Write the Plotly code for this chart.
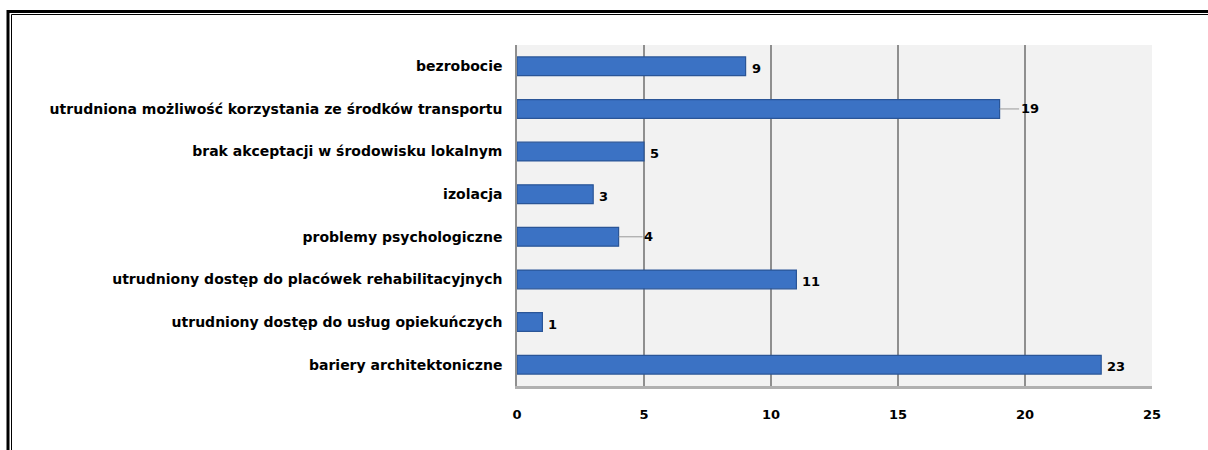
import plotly.graph_objects as go

categories = [
    "bezrobocie",
    "utrudniona możliwość korzystania ze środków transportu",
    "brak akceptacji w środowisku lokalnym",
    "izolacja",
    "problemy psychologiczne",
    "utrudniony dostęp do placówek rehabilitacyjnych",
    "utrudniony dostęp do usług opiekuńczych",
    "bariery architektoniczne",
]
values = [9, 19, 5, 3, 4, 11, 1, 23]
x_ticks = [0, 5, 10, 15, 20, 25]

W, H = 1208, 450
ML, MR, MT, MB = 517, 56, 45, 64
FONT = "DejaVu Sans"

fig = go.Figure()
fig.add_trace(go.Bar(
    x=values, y=categories, orientation="h",
    marker=dict(color="#3b72c4", line=dict(color="#2a5597", width=1.2)),
    width=0.44, hoverinfo="x+y",
))

# data labels
leader = [False, True, False, False, True, False, False, False]
for c, v, ld in zip(categories, values, leader):
    if ld:
        fig.add_annotation(x=v, y=c, text=f"<b>{v}</b>", showarrow=True, ax=30, ay=0,
                           arrowhead=0, arrowwidth=1, arrowcolor="#999999", standoff=0,
                           font=dict(family=FONT, size=13, color="black"))
    else:
        fig.add_annotation(x=v, y=c, text=f"<b>{v}</b>", showarrow=False,
                           xanchor="left", xshift=4, yshift=-2,
                           font=dict(family=FONT, size=13, color="black"))

pw = W - ML - MR
ph = H - MT - MB
def px_x(p):
    return (p - ML) / pw
def px_y(p):
    return 1 - (p - MT) / ph

# double frame
fig.add_shape(type="rect", xref="paper", yref="paper",
              x0=px_x(8), x1=px_x(1220), y0=px_y(11.5), y1=px_y(470),
              line=dict(color="black", width=3))
fig.add_shape(type="rect", xref="paper", yref="paper",
              x0=px_x(11.5), x1=px_x(1220), y0=px_y(14.5), y1=px_y(470),
              line=dict(color="black", width=1))

fig.update_layout(
    width=W, height=H,
    margin=dict(l=ML, r=MR, t=MT, b=MB),
    paper_bgcolor="white", plot_bgcolor="#f2f2f2",
    showlegend=False,
    xaxis=dict(range=[0, 25], tickvals=x_ticks, ticktext=[f"<b>{t}</b>" for t in x_ticks],
               showgrid=True, gridcolor="#8f8f8f", gridwidth=1.5, zeroline=False,
               showline=True, linecolor="#b0b0b0", linewidth=3, mirror=False,
               ticks="", ticklabelstandoff=14,
               tickfont=dict(family=FONT, size=13, color="black"), fixedrange=True),
    yaxis=dict(autorange="reversed", showgrid=False, zeroline=False,
               showline=True, linecolor="#8f8f8f", linewidth=1.5,
               ticks="", ticklabelstandoff=10,
               tickvals=categories, ticktext=[f"<b>{c}</b>" for c in categories],
               tickfont=dict(family=FONT, size=14, color="black"), fixedrange=True),
)

fig.write_html("out.html", config={"displayModeBar": False},
               post_script="document.body.style.margin='0px';")
